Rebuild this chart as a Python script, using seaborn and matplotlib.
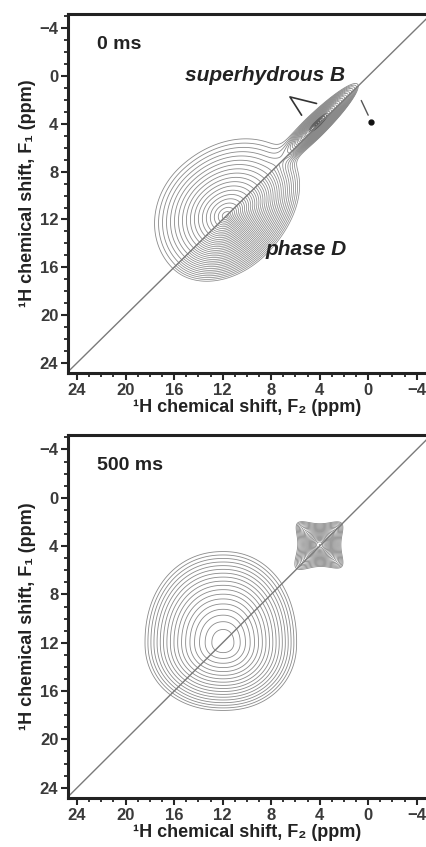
import numpy as np
import matplotlib
matplotlib.use("Agg")
import matplotlib.pyplot as plt
from matplotlib.ticker import MultipleLocator, FixedLocator
import seaborn as sns

# ---------------- data ----------------
axis_ticks = [24, 20, 16, 12, 8, 4, 0, -4]
x_limits = [24.75, -4.85]
y_limits = [24.85, -5.2]
panel_labels = ["0 ms", "500 ms"]
x_label = "\u00b9H chemical shift, F\u2082 (ppm)"
y_label = "\u00b9H chemical shift, F\u2081 (ppm)"
diag_ppm = [26.0, -6.0]

# 0 ms : phase D broad peak, in diagonal coords u=(F2+F1)/2, v=(F2-F1)/2
phaseD_center_uv = [11.7, 0.0]
phaseD_extent_u = [5.1, 4.4]       # toward upper-right, toward lower-left
phaseD_extent_v = [3.95, 3.25]     # upper-left side, lower-right side
phaseD_amp = 1.0
# 0 ms : superhydrous B narrow diagonal peak
shb_center_uv = [4.1, 0.1]
shb_extent_u = [3.3, 2.4]
shb_extent_v = [0.62, 0.62]
shb_amp = 3.0
lowest_level = 0.05

# 0 ms annotations
label_shb = "superhydrous B"
label_shb_pos = [8.5, -0.05]
label_phaseD = "phase D"
label_phaseD_pos = [5.1, 14.55]
shb_pointer_F2 = [5.49, 6.45, 4.26]
shb_pointer_F1 = [3.27, 1.74, 2.29]
star_line_F2 = [0.57, 0.0]
star_line_F1 = [2.04, 3.27]
star_dot = [-0.27, 3.83]

# 500 ms : main exchange peak (rounded square) and small star-shaped peak
main_center = [11.95, 12.0]
main_extent_x = [6.45, 6.05]       # toward left (high ppm), toward right
main_extent_y = [7.55, 5.6]        # toward top (low ppm), toward bottom
main_amp = 1.0
star_center = [4.0, 3.9]
star_width = 0.6
star_radius = 2.8
star_amp = 1.4

# ---------------- helpers ----------------
g = np.linspace(-6, 26, 700)
X, Y = np.meshgrid(g, g)
U = (X + Y) / 2.0
V = (X - Y) / 2.0


def cone(center_uv, ext_u, ext_v, amp, lowest):
    du = U - center_uv[0]
    dv = V - center_uv[1]
    a = np.where(du < 0, ext_u[0], ext_u[1])
    b = np.where(dv > 0, ext_v[0], ext_v[1])
    d = np.sqrt((du / a) ** 2 + (dv / b) ** 2)
    k = np.log(amp / lowest)
    return amp * np.exp(-k * d)


def squircle(center, ext_x, ext_y, amp, lowest, p=2.15, q=1.5):
    dx = X - center[0]
    dy = Y - center[1]
    wx = np.where(dx > 0, ext_x[0], ext_x[1])
    wy = np.where(dy < 0, ext_y[0], ext_y[1])
    d = (np.abs(dx / wx) ** p + np.abs(dy / wy) ** p) ** (1.0 / p)
    k = np.log(amp / lowest)
    return amp * np.exp(-k * d ** q)


def star(center, w, radius, amp):
    dx = X - center[0]
    dy = Y - center[1]
    du = (dx + dy) / np.sqrt(2)
    dv = (dx - dy) / np.sqrt(2)
    r = np.sqrt(dx ** 2 + dy ** 2)
    window = 1.0 / (1.0 + (r / radius) ** 8)
    return amp * window / ((1 + (du / w) ** 2) * (1 + (dv / w) ** 2))


def geo_levels(lo, hi, ratio):
    n = int(np.floor(np.log(hi / lo) / np.log(ratio))) + 1
    return lo * ratio ** np.arange(n)


def level_colors(levels):
    return ["#8a8a8a" if lv <= 1.0 else "#5a5a5a" for lv in levels]


# ---------------- figure ----------------
sns.set_style("ticks")
plt.rcParams["font.family"] = ["Liberation Sans", "DejaVu Sans"]
plt.rcParams["font.weight"] = "bold"

fig = plt.figure(figsize=(4.27, 8.47), dpi=100)
ax_top = fig.add_axes([68 / 427, 1 - 373 / 847, 359 / 427, 359 / 847])
ax_bot = fig.add_axes([68 / 427, 1 - 798 / 847, 359 / 427, 363 / 847])

# top field
Z_top = cone(phaseD_center_uv, phaseD_extent_u, phaseD_extent_v, phaseD_amp, lowest_level) + \
    cone(shb_center_uv, shb_extent_u, shb_extent_v, shb_amp, lowest_level)
ratio = (phaseD_amp / lowest_level) ** (1 / 18)
lv_sparse = geo_levels(lowest_level, Z_top.max(), ratio)
lv_dense = geo_levels(lowest_level, Z_top.max(), np.sqrt(ratio))
ax_top.contour(X, Y, np.ma.masked_where(V < -0.03, Z_top), levels=lv_sparse,
               colors=level_colors(lv_sparse), linewidths=0.6)
ax_top.contour(X, Y, np.ma.masked_where(V > 0.03, Z_top), levels=lv_dense,
               colors=level_colors(lv_dense), linewidths=0.55)

# bottom field
Z_bot = squircle(main_center, main_extent_x, main_extent_y, main_amp, lowest_level) + \
    star(star_center, star_width, star_radius, star_amp)
lv_bot = geo_levels(lowest_level, Z_bot.max(), ratio)
ax_bot.contour(X, Y, Z_bot, levels=lv_bot, colors="#8a8a8a", linewidths=0.6)

for ax, lab in zip([ax_top, ax_bot], panel_labels):
    sns.lineplot(x=diag_ppm, y=diag_ppm, ax=ax, color="#7a7a7a", linewidth=1.0)
    ax.set_xlim(*x_limits)
    ax.set_ylim(*y_limits)
    ax.xaxis.set_major_locator(FixedLocator(axis_ticks))
    ax.yaxis.set_major_locator(FixedLocator(axis_ticks))
    ax.xaxis.set_minor_locator(MultipleLocator(1))
    ax.yaxis.set_minor_locator(MultipleLocator(1))
    ax.tick_params(which="major", direction="out", length=5, width=1.5,
                   labelsize=12, labelcolor="#3a3a3a", pad=2)
    ax.tick_params(which="minor", direction="out", length=3, width=1.3)
    ax.tick_params(top=False, right=False, which="both")
    for s in ["left", "bottom", "top"]:
        ax.spines[s].set_linewidth(2.2)
        ax.spines[s].set_color("#222222")
    ax.spines["right"].set_visible(False)
    ax.set_xlabel(x_label, fontsize=13, fontweight="bold", labelpad=1, color="#222222")
    ax.set_ylabel(y_label, fontsize=13, fontweight="bold", labelpad=2, color="#222222")
    ax.text(0.081, 0.915, lab, transform=ax.transAxes, ha="left", va="center",
            fontsize=14, fontweight="bold", color="#222222")

# annotations on the 0 ms panel
ax_top.text(*label_shb_pos, label_shb, ha="center", va="center", fontsize=15,
            fontweight="bold", fontstyle="italic", color="#222222")
ax_top.text(*label_phaseD_pos, label_phaseD, ha="center", va="center", fontsize=15,
            fontweight="bold", fontstyle="italic", color="#222222")
ax_top.plot(shb_pointer_F2, shb_pointer_F1, color="#333333", linewidth=1.2)
ax_top.plot(star_line_F2, star_line_F1, color="#555555", linewidth=1.0)
ax_top.plot([star_dot[0]], [star_dot[1]], marker="o", markersize=3.5, color="#111111")

fig.savefig("out.png", dpi=100)
